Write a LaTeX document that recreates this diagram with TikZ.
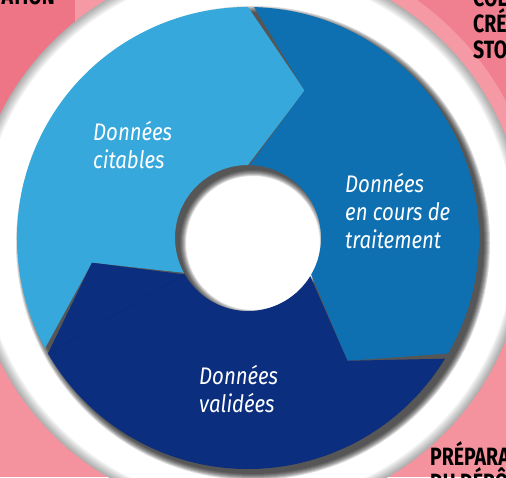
\documentclass[tikz,border=0pt]{standalone}
\usepackage{fontspec}
\setmainfont{Fira Sans}
\newfontfamily\etiquettefont[FakeStretch=0.85]{Fira Sans}
\newfontfamily\coinfont[FakeStretch=0.78]{Fira Sans}
\usepackage{tikz}
\usetikzlibrary{calc}
\usetikzlibrary{math}
\definecolor{bleuclair}{HTML}{36A8DB}
\definecolor{bleumoyen}{HTML}{0E6FB1}
\definecolor{bleufonce}{HTML}{0B2E7E}
\definecolor{rose}{HTML}{F4929D}
\definecolor{roseclair}{HTML}{F59AA5}
\definecolor{rosefonce}{HTML}{EE7585}
\definecolor{rosecoin}{HTML}{F0808F}
\tikzset{
    etiquette/.style={text=white, inner sep=0pt, align=left,
        font=\etiquettefont\itshape\fontsize{24}{28}\selectfont},
    coin/.style={text=black, inner sep=0pt, align=left,
        font=\coinfont\bfseries\fontsize{25}{26}\selectfont},
}

\begin{document}
\begin{tikzpicture}[x=1pt,y=1pt]
            \tikzmath{\R = 231; \r = 73; \rt = 158; \Rb = 277; \g = 1.5;}
            \useasboundingbox (0,0) rectangle (506,477);
            \clip (0,0) rectangle (506,477);
            \coordinate (O) at (248,239);
            % fond rose des cartes voisines
            \fill[rose] (0,0) rectangle (506,477);
            \fill[roseclair] (0,240) rectangle (253,477);
            \fill[rosefonce] (0,240) rectangle (75,477);
            \fill[roseclair] (253,240) rectangle (506,477);
            \begin{scope}
                \clip (253,240) rectangle (506,477);
                \fill[rosecoin, even odd rule] (0,0) rectangle (506,477) (O) circle (292);
            \end{scope}
            % disque blanc
            \fill[white] (O) circle (\Rb);
            \begin{scope}
                \clip (O) circle (\Rb);
                \foreach \w in {2,5,...,20} {
                    \draw[black, opacity=0.05, line width=\w pt] (O) circle (\Rb);
                }
            \end{scope}
            % anneau de fleches
            \begin{scope}[shift={(O)}]
                \foreach \k in {0,...,6} {
                    \fill[black, opacity=0.14, even odd rule] (5,-5) circle (\R+\k) (5,-5) circle (\r-\k);
                }
                \foreach \coul/\t/\b/\q in {bleuclair/208.5/90/189, bleumoyen/88.5/-30/69, bleufonce/-31.5/-150/-51} {
                    \tikzmath{\p = \b - 21;}
                    \fill[\coul] (\t:\R) arc[start angle=\t, end angle=\b, radius=\R] -- (\p:\rt)
                        -- (\b:\r) arc[start angle=\b, end angle=\t, radius=\r] -- (\q:\rt) -- cycle;
                }
                \draw[bleufonce!92!black, line width=0.4pt] (-150:\R) -- (-150:\r);
            \end{scope}
            % textes
            \node[etiquette, anchor=north west] (citables) at (93,356) {Données\\citables};
            \node[etiquette, anchor=north west] (traitement) at (345,304) {Données\\en cours de\\traitement};
            \node[etiquette, anchor=north west] (validees) at (199,112) {Données\\validées};
            \node[coin, anchor=base east] (ation) at (55,472) {ATION};
            \node[coin, anchor=north west] (collecte) at (473,488) {COL\\CRÉ\\STO};
            \node[coin, anchor=north west] (preparation) at (430,36) {PRÉPARA\\DU DÉPÔ};
        \end{tikzpicture}
\end{document}
